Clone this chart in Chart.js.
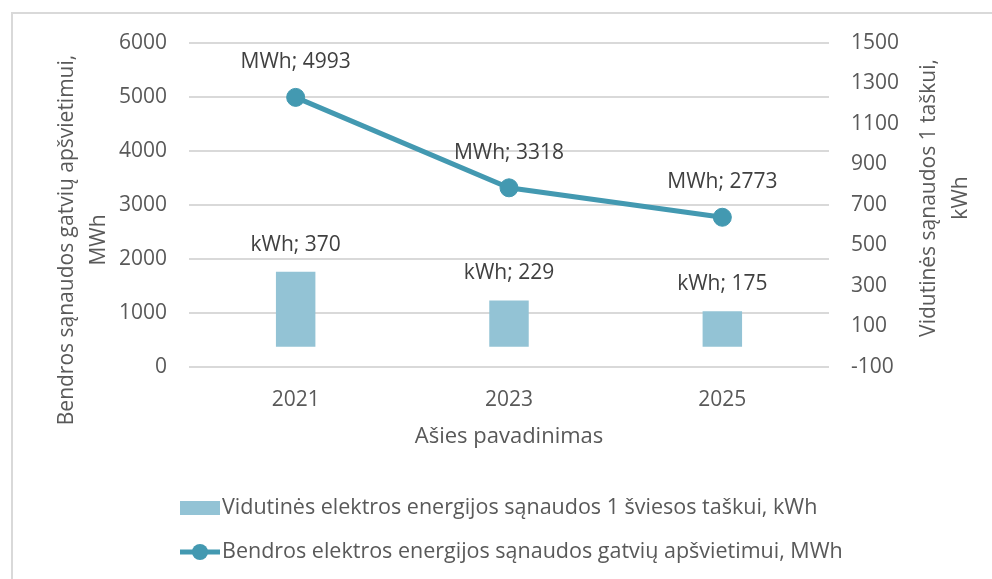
<!DOCTYPE html>
<html>
<head>
<meta charset="utf-8">
<script src="https://cdn.jsdelivr.net/npm/chart.js@4"></script>
<style>
  html, body { margin: 0; padding: 0; background: #fff; }
  #wrap { width: 992px; height: 579px; position: relative; }
</style>
</head>
<body>
<div id="wrap"><canvas id="myChart"></canvas></div>
<script>
// chart data
const years = ['2021', '2023', '2025'];
const kwhPerPoint = [370, 229, 175];
const mwhTotal = [4993, 3318, 2773];
const leftTicks = [0, 6000, 1000];    // min, max, step
const rightTicks = [-100, 1500, 200]; // min, max, step

const FONT = '"Open Sans", "Noto Sans", sans-serif';
const GREY = '#595959';
const BAR_COLOR = '#93c3d5';
const LINE_COLOR = '#4399b1';

// frame, axis titles, value labels and legend
const decor = {
  id: 'decor',
  beforeDraw(chart) {
    const c = chart.ctx;
    c.save();
    c.fillStyle = '#fff';
    c.fillRect(0, 0, chart.width, chart.height);
    c.strokeStyle = '#d9d9d9';
    c.lineWidth = 2;
    c.strokeRect(12, 13, chart.width + 20, chart.height + 20);
    c.restore();
  },
  afterDatasetsDraw(chart) {
    const c = chart.ctx;
    c.save();
    c.font = '21px ' + FONT;
    c.fillStyle = '#404040';
    c.textAlign = 'center';
    c.textBaseline = 'middle';
    chart.data.datasets.forEach((ds, i) => {
      const meta = chart.getDatasetMeta(i);
      const unit = ds.type === 'bar' ? 'kWh' : 'MWh';
      const off = ds.type === 'bar' ? 27 : 35;
      meta.data.forEach((el, j) => {
        c.fillText(unit + '; ' + ds.data[j], el.x, el.y - off);
      });
    });
    c.restore();
  },
  afterDraw(chart) {
    const c = chart.ctx;
    c.save();
    c.fillStyle = GREY;
    c.font = '21px ' + FONT;
    c.textAlign = 'center';
    c.textBaseline = 'middle';
    // left axis title
    c.save();
    c.translate(67, 240);
    c.rotate(-Math.PI / 2);
    c.fillText('Bendros sąnaudos gatvių apšvietimui,', 0, 0);
    c.fillText('MWh', 0, 32);
    c.restore();
    // right axis title
    c.save();
    c.translate(929, 198);
    c.rotate(-Math.PI / 2);
    c.fillText('Vidutinės sąnaudos 1 taškui,', 0, 0);
    c.fillText('kWh', 0, 32);
    c.restore();
    // x axis title
    c.font = '22px ' + FONT;
    c.fillText('Ašies pavadinimas', 509, 437);
    // legend
    c.font = '21.5px ' + FONT;
    c.textAlign = 'left';
    c.fillStyle = BAR_COLOR;
    c.fillRect(180, 501, 40, 14);
    c.fillStyle = GREY;
    c.fillText('Vidutinės elektros energijos sąnaudos 1 šviesos taškui, kWh', 222, 508);
    c.strokeStyle = LINE_COLOR;
    c.lineWidth = 5;
    c.beginPath();
    c.moveTo(180, 552);
    c.lineTo(220, 552);
    c.stroke();
    c.fillStyle = LINE_COLOR;
    c.beginPath();
    c.arc(200, 552, 8, 0, Math.PI * 2);
    c.fill();
    c.fillStyle = GREY;
    c.fillText('Bendros elektros energijos sąnaudos gatvių apšvietimui, MWh', 222, 552);
    c.restore();
  }
};

const plain = v => String(v);

new Chart(document.getElementById('myChart').getContext('2d'), {
  data: {
    labels: years,
    datasets: [
      {
        type: 'line',
        label: 'Bendros elektros energijos sąnaudos gatvių apšvietimui, MWh',
        data: mwhTotal,
        yAxisID: 'y',
        borderColor: LINE_COLOR,
        backgroundColor: LINE_COLOR,
        borderWidth: 5,
        pointRadius: 9,
        pointBorderWidth: 1,
        pointBackgroundColor: LINE_COLOR,
        pointBorderColor: LINE_COLOR,
        tension: 0,
        order: 0
      },
      {
        type: 'bar',
        label: 'Vidutinės elektros energijos sąnaudos 1 šviesos taškui, kWh',
        data: kwhPerPoint,
        yAxisID: 'y1',
        backgroundColor: BAR_COLOR,
        categoryPercentage: 1,
        barPercentage: 0.185,
        order: 1
      }
    ]
  },
  options: {
    responsive: true,
    maintainAspectRatio: false,
    animation: false,
    layout: { padding: { top: 43, left: 0, right: 0, bottom: 0 } },
    plugins: {
      legend: { display: false },
      tooltip: { enabled: false }
    },
    scales: {
      x: {
        grid: { display: false, drawTicks: false },
        border: { display: false },
        ticks: { color: GREY, font: { family: FONT, size: 21 }, padding: 20 },
        afterFit(s) { s.height = 212; }
      },
      y: {
        position: 'left',
        min: leftTicks[0],
        max: leftTicks[1],
        ticks: { stepSize: leftTicks[2], callback: plain, color: GREY, font: { family: FONT, size: 21 }, padding: 22 },
        grid: { color: '#d9d9d9', lineWidth: 2, drawTicks: false },
        border: { display: false },
        afterFit(s) { s.width = 189; }
      },
      y1: {
        position: 'right',
        min: rightTicks[0],
        max: rightTicks[1],
        ticks: { stepSize: rightTicks[2], callback: plain, color: GREY, font: { family: FONT, size: 21 }, padding: 22 },
        grid: { display: false, drawTicks: false },
        border: { display: false },
        afterFit(s) { s.width = 163; }
      }
    }
  },
  plugins: [decor]
});
</script>
</body>
</html>
